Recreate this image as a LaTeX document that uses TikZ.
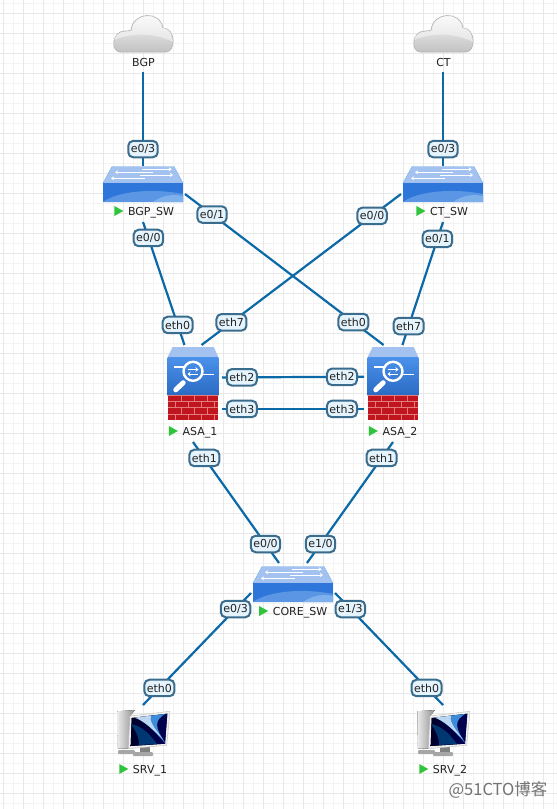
\documentclass[tikz,border=0pt]{standalone}
\usepackage{fontspec}
\setmainfont{DejaVu Sans}
\newfontfamily\markfont{Noto Sans CJK SC}
\usetikzlibrary{arrows.meta}
\definecolor{gridmajor}{HTML}{E8E8E8}
\definecolor{gridminor}{HTML}{F3F3F3}
\definecolor{linkblue}{HTML}{0B69A8}
\definecolor{portedge}{HTML}{3A6C8E}
\definecolor{portfill}{HTML}{E4F3FC}
\definecolor{inktext}{HTML}{222222}
\definecolor{runcolor}{HTML}{2FC43C}
\definecolor{swtop}{HTML}{A3C2F0}
\definecolor{swdark}{HTML}{2F76DA}
\definecolor{swlight}{HTML}{7EB0EC}
\definecolor{asablue}{HTML}{4C92EA}
\definecolor{brickred}{HTML}{C0141E}
\definecolor{brickline}{HTML}{E47C7C}
\tikzset{
  x=1pt, y=-1pt,
  device/.style={inner sep=0pt, outer sep=0pt, minimum width=#1},
  devname/.style={inner sep=0pt, text=inktext, font=\fontsize{11}{13}\selectfont},
  port/.style={draw=portedge, line width=2pt, fill=portfill, rounded corners=5pt,
               inner xsep=2.5pt, inner ysep=0pt, minimum height=16.5pt, minimum width=29pt,
               text=inktext, font=\fontsize{11}{13}\selectfont},
  link/.style={line width=2.2pt, color=linkblue},
  runmark/.style={fill=runcolor},
  cloudicon/.pic={
    \draw[draw=black!30, line width=.6pt, top color=white, bottom color=black!24]
      (-23,18) .. controls (-32,18) and (-32,-3) .. (-18,-3)
      .. controls (-16,-3) and (-14,-3) .. (-12,-4)
      .. controls (-10,-22) and (17,-24) .. (20,-6)
      .. controls (33,-6) and (33,18) .. (23,18) -- cycle;
    \fill[white, opacity=.45] (-29,6) .. controls (-10,-2) and (12,-1) .. (30,8)
      .. controls (28,-4) and (24,-6) .. (19,-6)
      .. controls (16,-22) and (-9,-21) .. (-11,-3)
      .. controls (-18,-2) and (-27,-3) .. (-29,6) -- cycle;
  },
  switchicon/.pic={
    \fill[swtop, draw=swlight, line width=.4pt] (-40,-1) -- (-31,-17.5) -- (31,-17.5) -- (40,-1) -- cycle;
    \fill[swdark] (-40,-1) rectangle (40,18);
    \fill[swdark!45!swlight] (-40,18) .. controls (-25,7) and (10,4) .. (40,10) -- (40,18) -- cycle;
    \fill[swlight] (10,18) .. controls (20,11) and (30,10) .. (40,12) -- (40,18) -- cycle;
    \draw[white, line width=1pt, -{Stealth[length=3pt,width=4pt]}] (-1.3,-14.7) -- (28.7,-14.7);
    \draw[white, line width=1pt, -{Stealth[length=3pt,width=4pt]}] (10,-11.7) -- (-28,-11.7);
    \draw[white, line width=1pt, -{Stealth[length=3pt,width=4pt]}] (-3,-9) -- (30,-9);
    \draw[white, line width=1pt, -{Stealth[length=3pt,width=4pt]}] (2,-5.7) -- (-32,-5.7);
  },
  asaicon/.pic={
    \fill[swtop] (-25.3,-28) -- (-20.3,-38) -- (20.7,-38) -- (25.3,-28) -- cycle;
    \fill[top color=asablue, bottom color=swdark!90!black] (-25.3,-28) rectangle (25.3,10.3);
    \draw[white, line width=1.2pt] (-19.3,-18) -- (-9,-18) (9,-10.7) -- (20.7,-10.7);
    \draw[white, line width=2.4pt] (0,-13.7) circle[radius=9.5];
    \draw[white, line width=5pt, line cap=round] (-17.2,4.8) -- (-9.8,-2.3);
    \draw[white, line width=1pt, -{Stealth[length=3pt,width=4.5pt]}] (-5,-15.5) -- (5.5,-15.5);
    \draw[white, line width=1pt, -{Stealth[length=3pt,width=4.5pt]}] (5,-11) -- (-5.5,-11);
    \fill[brickred] (-25.3,10.3) rectangle (25.3,35);
    \foreach \rowy in {10.8,16.5,22.7,28.9}
      \draw[brickline, line width=.7pt] (-25.3,\rowy) -- (25.3,\rowy);
    \foreach \brickx in {-12,1,14}
      \draw[brickline, line width=.7pt] (\brickx,10.8) -- (\brickx,16.5) (\brickx,22.7) -- (\brickx,28.9);
    \foreach \brickx in {-18,-5,8,21}
      \draw[brickline, line width=.7pt] (\brickx,16.5) -- (\brickx,22.7) (\brickx,28.9) -- (\brickx,35);
  },
  pcicon/.pic={
    \fill[left color=black!8, right color=black!45] (-25.7,-18.7) -- (-8,-20) -- (-13,-14) -- (-14.7,18.7) -- (-25,18.7) -- cycle;
    \fill[black!35, rounded corners=1pt] (-25,20) rectangle (-8,24);
    \fill[black!50] (-3,17) rectangle (7,22);
    \fill[black!35, rounded corners=1pt] (-10,22) rectangle (10,26);
    \fill[black!6, draw=black!25, line width=.4pt] (-13,-14) -- (27,-18.7) -- (23.7,15.3) -- (-14.7,18.7) -- cycle;
    \begin{scope}
      \clip (-11.3,-12) -- (24.3,-16.3) -- (22,13.7) -- (-12.3,16) -- cycle;
      \fill[left color=black!85!blue, right color=blue!35!black] (-15,-20) rectangle (28,20);
      \fill[blue!45!cyan!70!white, opacity=.8] (-12,-14) .. controls (2,-10) and (12,2) .. (23,14)
        .. controls (12,-2) and (10,-10) .. (24,-17) -- cycle;
      \fill[white, opacity=.65] (-10,-13) .. controls (2,-9) and (10,0) .. (20,9)
        .. controls (10,-3) and (6,-10) .. (8,-15) -- cycle;
      \fill[blue!40!cyan!60!black, opacity=.6] (-12,-6) .. controls (0,-4) and (8,6) .. (14,14) -- (-4,15) .. controls (-4,6) and (-8,0) .. (-12,-6) -- cycle;
    \end{scope}
  }}
\begin{document}
\begin{tikzpicture}
\useasboundingbox (0,0) rectangle (557,809);
\fill[white] (0,0) rectangle (557,809);
% grid
\foreach \gx in {13.3,33.3,...,553.3} \draw[gridminor, line width=1.1pt] (\gx,0) -- (\gx,809);
\foreach \gy in {3.3,23.3,...,803.3} \draw[gridminor, line width=1.1pt] (0,\gy) -- (557,\gy);
\foreach \gx in {3.3,23.3,...,553.3} \draw[gridmajor, line width=1.1pt] (\gx,0) -- (\gx,809);
\foreach \gy in {13.3,33.3,...,803.3} \draw[gridmajor, line width=1.1pt] (0,\gy) -- (557,\gy);

% devices
\node[device=60pt, minimum height=57pt] (bgpcloud) at (143,43.5) {};
\node[device=60pt, minimum height=57pt] (ctcloud) at (443,43.5) {};
\node[device=84pt, minimum height=56pt] (bgpsw) at (143,194) {};
\node[device=84pt, minimum height=56pt] (ctsw) at (443,194) {};
\node[device=58pt, minimum height=97pt] (asaone) at (193,393.5) {};
\node[device=58pt, minimum height=97pt] (asatwo) at (393,393.5) {};
\node[device=84pt, minimum height=60pt] (coresw) at (293,593) {};
\node[device=60pt, minimum height=72pt] (srvone) at (143,741) {};
\node[device=60pt, minimum height=72pt] (srvtwo) at (443,741) {};

\pic at (143,34) {cloudicon};
\pic at (443,34) {cloudicon};
\pic at (143,184) {switchicon};
\pic at (443,184) {switchicon};
\pic at (193,385) {asaicon};
\pic at (393,385) {asaicon};
\pic at (293,584) {switchicon};
\pic at (143,730) {pcicon};
\pic at (443,730) {pcicon};

% names
\node[devname] (bgpname) at (143.5,62) {BGP};
\node[devname] (ctname) at (443.5,62) {CT};
\node[devname] (bgpswname) at (151,212.5) {BGP\_SW};
\node[devname] (ctswname) at (449,212.5) {CT\_SW};
\node[devname] (asaonename) at (200,432.5) {ASA\_1};
\node[devname] (asatwoname) at (400,432.5) {ASA\_2};
\node[devname] (coreswname) at (300,612.5) {CORE\_SW};
\node[devname] (srvonename) at (150,770.5) {SRV\_1};
\node[devname] (srvtwoname) at (450,770.5) {SRV\_2};
\foreach \devlabel in {bgpswname,ctswname,asaonename,asatwoname,coreswname,srvonename,srvtwoname}
  \fill[runmark] ([shift={(-13.5,-6.5)}]\devlabel.west) -- ++(9,5) -- ++(-9,5) -- cycle;

% links
\draw[link] (bgpcloud.south) -- (bgpsw.north) node[port, pos=.82] (bgpswp3) {e0/3};
\draw[link] (ctcloud.south) -- (ctsw.north) node[port, pos=.82] (ctswp3) {e0/3};
\draw[link] (bgpsw.south) -- (asaone.100.5) node[port, pos=.13] (bgpswp0) {e0/0} node[port, pos=.837] (asaonee0) {eth0};
\draw[link] (ctsw.south) -- (asatwo.79.5) node[port, pos=.138] (ctswp1) {e0/1} node[port, pos=.846] (asatwoe7) {eth7};
\draw[link] (bgpsw.east) -- (asatwo.101.6) node[port, pos=.136] (bgpswp1) {e0/1} node[port, pos=.848] (asatwoe0) {eth0};
\draw[link] (ctsw.west) -- (asaone.80.6) node[port, pos=.145] (ctswp0) {e0/0} node[port, pos=.85] (asaonee7) {eth7};
\draw[link] (asaone.29.6) -- (asatwo.150.4) node[port, pos=.14] (asaonee2) {eth2} node[port, pos=.845] (asatwoe2) {eth2};
\draw[link] (asaone.-28.1) -- (asatwo.208.1) node[port, pos=.14] (asaonee3) {eth3} node[port, pos=.845] (asatwoe3) {eth3};
\draw[link] (asaone.south) -- (coresw.115) node[port, pos=.132] (asaonee1) {eth1} node[port, pos=.843] (coreswp0) {e0/0};
\draw[link] (asatwo.south) -- (coresw.65) node[port, pos=.132] (asatwoe1) {eth1} node[port, pos=.843] (coreswp10) {e1/0};
\draw[link] (coresw.west) -- (srvone.north) node[port, pos=.143] (coreswp3) {e0/3} node[port, pos=.848] (srvonee0) {eth0};
\draw[link] (coresw.east) -- (srvtwo.north) node[port, pos=.143] (coreswp13) {e1/3} node[port, pos=.848] (srvtwoe0) {eth0};

\node[inner sep=0pt, text=black!55, font=\markfont\fontsize{16.5}{18}\selectfont] (watermark) at (498,790) {@51CTO博客};
\end{tikzpicture}
\end{document}
